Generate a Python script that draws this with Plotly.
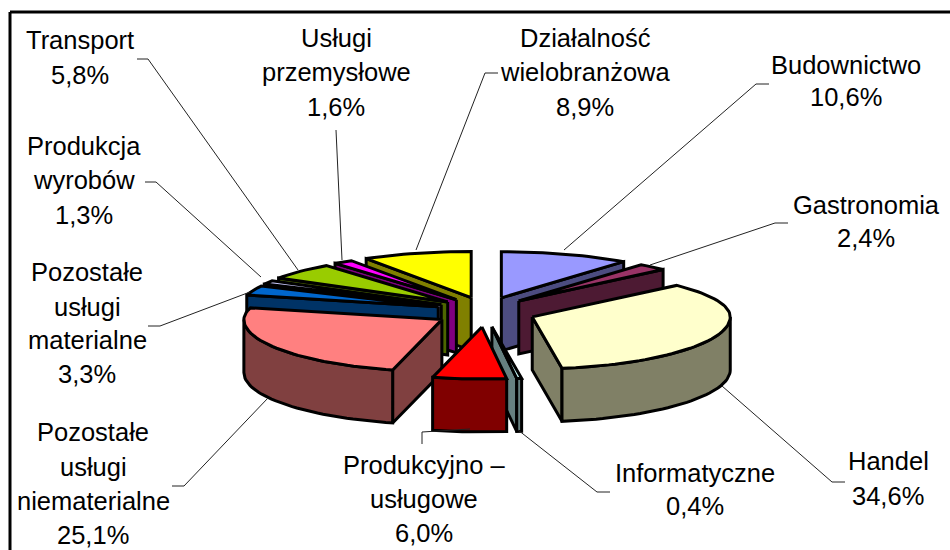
import math
import plotly.graph_objects as go

categories = ["Budownictwo", "Gastronomia", "Handel", "Informatyczne", "Produkcyjno – usługowe",
              "Pozostałe usługi niematerialne", "Pozostałe usługi materialne", "Produkcja wyrobów",
              "Transport", "Usługi przemysłowe", "Działalność wielobranżowa"]
shares = [10.6, 2.4, 34.6, 0.4, 6.0, 25.1, 3.3, 1.3, 5.8, 1.6, 8.9]
top_colors = ["#9999FF", "#993366", "#FFFFCC", "#CCFFFF", "#FF0000", "#FF8080",
              "#0066CC", "#CCCCFF", "#99CC00", "#FF00FF", "#FFFF00"]
side_colors = ["#4C4C80", "#4D1A33", "#808066", "#668080", "#800000", "#804040",
               "#003366", "#666680", "#4D6600", "#800080", "#808000"]
draw_order = [10, 9, 8, 7, 6, 5, 0, 1, 2, 3, 4]

label_lines = [["Budownictwo", "10,6%"], ["Gastronomia", "2,4%"], ["Handel", "34,6%"],
               ["Informatyczne", "0,4%"], ["Produkcyjno –", "usługowe", "6,0%"],
               ["Pozostałe", "usługi", "niematerialne", "25,1%"],
               ["Pozostałe", "usługi", "materialne", "3,3%"],
               ["Produkcja", "wyrobów", "1,3%"], ["Transport", "5,8%"],
               ["Usługi", "przemysłowe", "1,6%"], ["Działalność", "wielobranżowa", "8,9%"]]
label_x = [846, 866, 888, 695, 424, 93, 87, 84, 80, 336, 585]
label_y = [[65, 97], [205, 238], [461, 496], [473, 506], [465, 499, 533],
           [432, 467, 501, 535], [272, 307, 340, 374], [146, 180, 215], [40, 75],
           [38, 72, 107], [38, 72, 107]]
leaders = [[(769, 84), (756, 84), (564, 250)], [(788, 223), (775, 223), (650, 265)],
           [(845, 482), (832, 482), (722, 386)], [(610, 492), (597, 492), (518, 430)],
           [(422, 444), (422, 432), (470, 429)], [(172, 486), (184, 486), (268, 398)],
           [(148, 326), (160, 326), (250, 292)], [(145, 182), (156, 182), (261, 277)],
           [(137, 59), (148, 59), (298, 270)], [(336, 130), (342, 260)],
           [(498, 73), (485, 73), (416, 250)]]

CX, CY, RX, RY_BACK, RY_FRONT, DEPTH, PULL_X, PULL_Y = 485, 312, 198, 46, 52, 53, 50, 15
OUT = 3

fig = go.Figure()


def poly(xs, ys, fill):
    fig.add_trace(go.Scatter(x=xs, y=ys, mode="lines", fill="toself", fillcolor=fill,
                             line=dict(color="black", width=OUT), hoverinfo="skip", showlegend=False))


def rim(a, ax, ay):
    r = math.radians(a)
    c = math.cos(r)
    return ax + RX * math.sin(r), ay - c * (RY_BACK if c > 0 else RY_FRONT)


total = sum(shares)
start = 0.0
spans = []
for s in shares:
    spans.append((start, start + s / total * 360))
    start += s / total * 360

for i in draw_order:
    a0, a1 = spans[i]
    m = math.radians((a0 + a1) / 2)
    ax, ay = CX + PULL_X * math.sin(m), CY - PULL_Y * math.cos(m)
    n = max(4, int((a1 - a0) / 2))
    arc = [a0 + (a1 - a0) * k / n for k in range(n + 1)]
    pts = [rim(a, ax, ay) for a in arc]
    # radial cut faces: draw the one whose outward side faces the viewer
    for p, q in ((pts[0], pts[-1]), (pts[-1], pts[0])):
        ex, ey = p[0] - ax, p[1] - ay
        nx, ny = -ey, ex
        if nx * (q[0] - ax) + ny * (q[1] - ay) > 0:
            nx, ny = -nx, -ny
        if ny > 0:
            poly([ax, p[0], p[0], ax, ax], [ay, p[1], p[1] + DEPTH, ay + DEPTH, ay], side_colors[i])
    # outer rim, front half only
    lo, hi = max(a0, 90), min(a1, 270)
    if hi > lo:
        k = max(2, int((hi - lo) / 2))
        front = [rim(lo + (hi - lo) * j / k, ax, ay) for j in range(k + 1)]
        xs = [p[0] for p in front] + [p[0] for p in reversed(front)] + [front[0][0]]
        ys = [p[1] for p in front] + [p[1] + DEPTH for p in reversed(front)] + [front[0][1]]
        poly(xs, ys, side_colors[i])
    poly([ax] + [p[0] for p in pts] + [ax], [ay] + [p[1] for p in pts] + [ay], top_colors[i])

for path in leaders:
    fig.add_trace(go.Scatter(x=[p[0] for p in path], y=[p[1] for p in path], mode="lines",
                             line=dict(color="#222222", width=1), hoverinfo="skip", showlegend=False))

for lines, lx, lys in zip(label_lines, label_x, label_y):
    for t, ly in zip(lines, lys):
        fig.add_annotation(x=lx, y=ly, text=t, showarrow=False, xanchor="center", yanchor="middle",
                           font=dict(family="Liberation Sans", size=25.5, color="black"))

fig.add_shape(type="line", x0=10, x1=10, y0=12, y1=550, line=dict(color="black", width=3))
fig.add_shape(type="line", x0=10, x1=950, y0=12, y1=12, line=dict(color="black", width=3))

fig.update_layout(width=950, height=550, margin=dict(l=0, r=0, t=0, b=0),
                  paper_bgcolor="white", plot_bgcolor="white", showlegend=False,
                  xaxis=dict(range=[0, 950], visible=False, fixedrange=True),
                  yaxis=dict(range=[550, 0], visible=False, fixedrange=True))
fig.write_html("out.html", config={"displayModeBar": False},
               post_script="document.body.style.margin='0';document.documentElement.style.overflow='hidden';")
